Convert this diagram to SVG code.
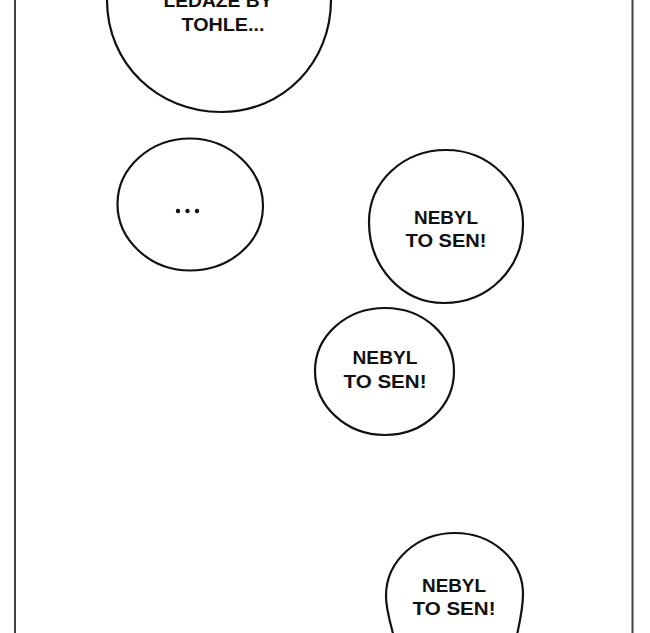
<svg xmlns="http://www.w3.org/2000/svg" width="650" height="633" viewBox="0 0 650 633">
<style>
.bubble{fill:#fff;stroke:#111;stroke-width:2.2;stroke-linejoin:round}
.t{font-family:"Liberation Sans",Arial,sans-serif;font-weight:bold;font-size:19px;fill:#111;text-anchor:middle}
.border{stroke:#444;stroke-width:2}
</style>
<rect width="650" height="633" fill="#fff"/>
<g id="panel">
<line class="border" x1="15" y1="0" x2="15" y2="633"/>
<line class="border" x1="632.5" y1="0" x2="632.5" y2="633"/>
</g>
<g id="bubble-top">
<path class="bubble" d="M107,-20 L107,0 C107,64 158,112 221,112 C284,112 331,62 331,0 L331,-20"/>
<text class="t" x="218" y="7" textLength="109" lengthAdjust="spacingAndGlyphs">LEDAŽE BY</text>
<text class="t" x="223" y="31" textLength="83" lengthAdjust="spacingAndGlyphs">TOHLE...</text>
</g>
<g id="bubble-dots">
<path class="bubble" d="M117.5,204 C117.5,168 150,138.5 190,138.5 C230,138.5 263,170 263,206 C263,242 230,270.5 190,270.5 C150,270.5 117.5,240 117.5,204 Z"/>
<circle cx="178" cy="211" r="2.2" fill="#111"/>
<circle cx="187.5" cy="211" r="2.2" fill="#111"/>
<circle cx="197" cy="211" r="2.2" fill="#111"/>
</g>
<g id="bubble-nebyl-1">
<path class="bubble" d="M369,222 C369,182 403,150 446,150 C489,150 523,184 523,224 C523,268 489,303 444,303 C401,303 369,266 369,222 Z"/>
<text class="t" x="446" y="224" textLength="64" lengthAdjust="spacingAndGlyphs">NEBYL</text>
<text class="t" x="446" y="247" textLength="81" lengthAdjust="spacingAndGlyphs">TO SEN!</text>
</g>
<g id="bubble-nebyl-2">
<path class="bubble" d="M315,371 C315,336 346,308 385,308 C424,308 454,336 454,371 C454,406 424,435 385,435 C346,435 315,406 315,371 Z"/>
<text class="t" x="385" y="364" textLength="65" lengthAdjust="spacingAndGlyphs">NEBYL</text>
<text class="t" x="385" y="388" textLength="83" lengthAdjust="spacingAndGlyphs">TO SEN!</text>
</g>
<g id="bubble-nebyl-3">
<path class="bubble" d="M396,645 C392,628 386,612 386,596 C386,560 418,533 455,533 C492,533 523,560 523,594 C523,612 518,628 515,645"/>
<text class="t" x="454" y="592" textLength="64" lengthAdjust="spacingAndGlyphs">NEBYL</text>
<text class="t" x="454" y="615" textLength="83" lengthAdjust="spacingAndGlyphs">TO SEN!</text>
</g>
<g id="connectors"/>
</svg>
